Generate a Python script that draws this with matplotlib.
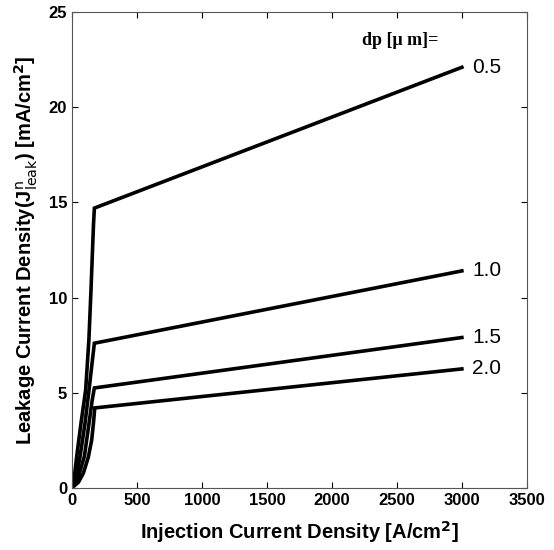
import matplotlib
matplotlib.use("Agg")
import matplotlib.pyplot as plt

# (injection current J [A/cm2], leakage current [mA/cm2]) per layer thickness dp
dp_labels = ["0.5", "1.0", "1.5", "2.0"]

j_05 = [0, 20, 36, 69, 105, 130, 146, 165, 172, 3000]
leak_05 = [0, 0.7, 1.65, 3.4, 5.15, 7.8, 10.4, 13.8, 14.7, 22.1]

j_10 = [0, 30, 62, 100, 131, 155, 172, 3000]
leak_10 = [0, 0.5, 1.65, 3.4, 5.15, 6.6, 7.6, 11.4]

j_15 = [0, 45, 95, 131, 155, 172, 3000]
leak_15 = [0, 0.5, 1.65, 3.4, 4.6, 5.25, 7.9]

j_20 = [0, 50, 87, 125, 151, 165, 175, 3000]
leak_20 = [0, 0.3, 0.77, 1.6, 2.5, 3.4, 4.2, 6.25]

series = [(j_05, leak_05), (j_10, leak_10), (j_15, leak_15), (j_20, leak_20)]

plt.rcParams['font.family'] = ['Liberation Sans', 'DejaVu Sans']

fig = plt.figure(figsize=(5.54, 5.5), dpi=100)
ax = fig.add_axes([0.130, 0.113, 0.821, 0.865])

for (j, leak), lab in zip(series, dp_labels):
    ax.plot(j, leak, color='black', lw=2.6, solid_joinstyle='miter')
    ax.text(3080, leak[-1], lab, fontsize=15, va='center', ha='left')

ax.text(2230, 23.5, "dp [μ m]=", fontsize=13, family=['Liberation Serif', 'DejaVu Serif'],
        fontweight='semibold', ha='left', va='center')

ax.set_xlim(0, 3500)
ax.set_ylim(0, 25)
ax.set_xticks(range(0, 3501, 500))
ax.set_yticks(range(0, 26, 5))
ax.tick_params(direction='in', top=True, right=True, length=4, width=0.8,
               labelsize=12)
for lbl in ax.get_xticklabels() + ax.get_yticklabels():
    lbl.set_fontweight('bold')
for s in ax.spines.values():
    s.set_linewidth(0.8)
    s.set_color('#555555')

ax.set_xlabel("Injection Current Density [A/cm$^{\\mathbf{2}}$]", fontsize=14.5,
              fontweight='bold', labelpad=8)
ax.set_ylabel("Leakage Current Density(J$^{\\mathrm{n}}_{\\mathrm{leak}}$) [mA/cm$^{\\mathbf{2}}$]",
              fontsize=14.5, fontweight='bold', labelpad=6)

fig.savefig("out.png", dpi=100)
